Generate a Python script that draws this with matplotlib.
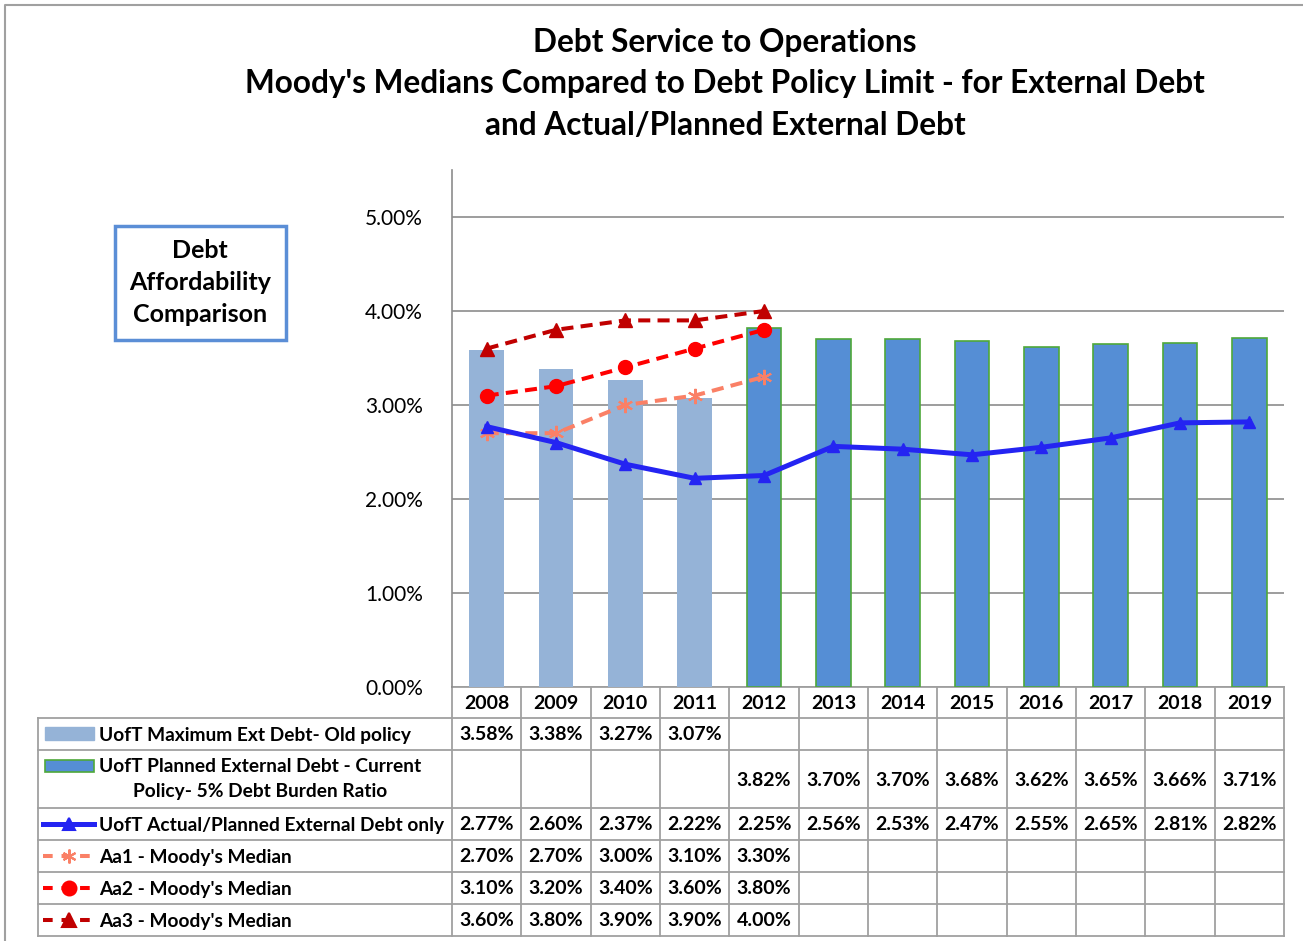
import numpy as np
import matplotlib
matplotlib.use('Agg')
import matplotlib.pyplot as plt
from matplotlib.patches import Rectangle

plt.rcParams['font.family'] = ['Lato', 'DejaVu Sans']

# data
years = ['2008', '2009', '2010', '2011', '2012', '2013', '2014', '2015',
         '2016', '2017', '2018', '2019']
old_policy = [3.58, 3.38, 3.27, 3.07, None, None, None, None, None, None, None, None]
planned = [None, None, None, None, 3.82, 3.70, 3.70, 3.68, 3.62, 3.65, 3.66, 3.71]
actual = [2.77, 2.60, 2.37, 2.22, 2.25, 2.56, 2.53, 2.47, 2.55, 2.65, 2.81, 2.82]
aa1 = [2.70, 2.70, 3.00, 3.10, 3.30]
aa2 = [3.10, 3.20, 3.40, 3.60, 3.80]
aa3 = [3.60, 3.80, 3.90, 3.90, 4.00]

row_labels = ['UofT Maximum Ext Debt- Old policy',
              'UofT Planned External Debt - Current\nPolicy- 5% Debt Burden Ratio',
              'UofT Actual/Planned External Debt only',
              "Aa1 - Moody's Median",
              "Aa2 - Moody's Median",
              "Aa3 - Moody's Median"]

c_old = '#95B3D7'
c_plan = '#558ED5'
c_plan_edge = '#4EA83A'
c_act = '#2424F2'
c_aa1 = '#FA8066'
c_aa2 = '#FF0000'
c_aa3 = '#C00000'
grid_c = '#8C8C8C'

W, H = 1303, 941
fig = plt.figure(figsize=(W / 100, H / 100), dpi=100)

# main plot area (pixel layout)
x0, x1 = 452, 1284
y_zero, y_top = 687, 170
ax = fig.add_axes([x0 / W, (H - y_zero) / H, (x1 - x0) / W, (y_zero - y_top) / H])

x = np.arange(len(years))
bw = 0.5
old_x = [i for i, v in enumerate(old_policy) if v is not None]
old_v = [v for v in old_policy if v is not None]
plan_x = [i for i, v in enumerate(planned) if v is not None]
plan_v = [v for v in planned if v is not None]
ax.bar(old_x, old_v, width=bw, color=c_old, zorder=2)
ax.bar(plan_x, plan_v, width=bw, color=c_plan, edgecolor=c_plan_edge, linewidth=1.2, zorder=2)

dash = (0, (3, 1.8))
ax.plot(x, actual, color=c_act, lw=3.6, marker='^', ms=9, zorder=4)
ax.plot(x[:5], aa1, color=c_aa1, lw=2.9, ls=dash, marker=(6, 2, 0), ms=11, mew=1.5, zorder=3)
ax.plot(x[:5], aa2, color=c_aa2, lw=2.9, ls=dash, marker='o', ms=10, zorder=3)
ax.plot(x[:5], aa3, color=c_aa3, lw=2.9, ls=dash, marker='^', ms=10, zorder=3)

ax.set_xlim(-0.5, len(years) - 0.5)
ax.set_ylim(0, 5.5)
ax.set_yticks([0, 1, 2, 3, 4, 5])
ax.set_yticklabels(['%.2f%%' % v for v in [0, 1, 2, 3, 4, 5]], fontsize=15)
ax.tick_params(axis='y', length=0, pad=21)
ax.set_xticks([])
ax.yaxis.grid(True, color=grid_c, lw=1.2, zorder=0)
for s in ['top', 'right', 'bottom']:
    ax.spines[s].set_visible(False)
ax.spines['left'].set_color(grid_c)
ax.spines['left'].set_linewidth(1.2)

# overlay in pixel coords for titles, table and box
ov = fig.add_axes([0, 0, 1, 1], zorder=-1)
ov.set_xlim(0, W)
ov.set_ylim(H, 0)
ov.axis('off')
ov.patch.set_alpha(0)

# outer border (only left and top visible)
ov.plot([5, 5, W], [H, 5, 5], color='#A0A0A0', lw=1.5)

titles = ['Debt Service to Operations',
          "Moody's Medians Compared to Debt Policy Limit - for External Debt",
          'and Actual/Planned External Debt']
for i, t in enumerate(titles):
    ov.text(725, 42 + i * 41.5, t, ha='center', va='center', fontsize=22.8, fontweight='bold')

# side box
ov.add_patch(Rectangle((115, 226), 171, 114, fill=False, edgecolor='#5B8ED6', lw=2.5))
for i, t in enumerate(['Debt', 'Affordability', 'Comparison']):
    ov.text(200, 250 + i * 32.5, t, ha='center', va='center', fontsize=18, fontweight='bold')

# table
col_w = (x1 - x0) / len(years)
row_edges = [718, 750, 808, 840, 872, 904, 936]
tl = 38
lc = '#A0A0A0'
lw_t = 1.3
fs = 14
ov.plot([x0, x1], [y_zero, y_zero], color=lc, lw=lw_t)
for y in row_edges:
    ov.plot([tl, x1], [y, y], color=lc, lw=lw_t)
ov.plot([tl, tl], [row_edges[0], row_edges[-1]], color=lc, lw=lw_t)
for i in range(len(years) + 1):
    xx = x0 + i * col_w
    ov.plot([xx, xx], [y_zero, row_edges[-1]], color=lc, lw=lw_t)
for i, yr in enumerate(years):
    ov.text(x0 + (i + 0.5) * col_w, (y_zero + 718) / 2 + 1, yr, ha='center', va='center',
            fontsize=fs, fontweight='bold')

series = [old_policy, planned, actual, aa1, aa2, aa3]
for r, vals in enumerate(series):
    yc = (row_edges[r] + row_edges[r + 1]) / 2 + 1
    for i, v in enumerate(vals):
        if v is not None:
            ov.text(x0 + (i + 0.5) * col_w, yc, '%.2f%%' % v, ha='center', va='center',
                    fontsize=fs, fontweight='bold')
    if r == 1:
        first, second = row_labels[r].split('\n')
        ov.text(99, row_edges[r] + 16, first, ha='left', va='center', fontsize=13.8,
                fontweight='bold')
        ov.text(260, row_edges[r] + 42, second, ha='center', va='center', fontsize=13.8,
                fontweight='bold')
    else:
        ov.text(99, yc, row_labels[r], ha='left', va='center', fontsize=13.8, fontweight='bold')

# legend keys
ov.add_patch(Rectangle((45, 727), 49, 13, color=c_old))
ov.add_patch(Rectangle((45, 760), 49, 12, facecolor=c_plan, edgecolor=c_plan_edge, lw=1.2))
key_specs = [(c_act, '-', '^', 3.6, 9), (c_aa1, (0, (2.4, 2.2)), (6, 2, 0), 2.9, 10),
             (c_aa2, (0, (2.4, 2.2)), 'o', 2.9, 10), (c_aa3, (0, (2.4, 2.2)), '^', 2.9, 10)]
for k, (c, ls, mk, lw, ms) in enumerate(key_specs):
    r = k + 2
    yc = (row_edges[r] + row_edges[r + 1]) / 2
    ov.plot([43, 94], [yc, yc], color=c, lw=lw, ls=ls)
    ov.plot([68.5], [yc], color=c, marker=mk, ms=ms, mew=1.5)

fig.savefig('out.png', dpi=100)
